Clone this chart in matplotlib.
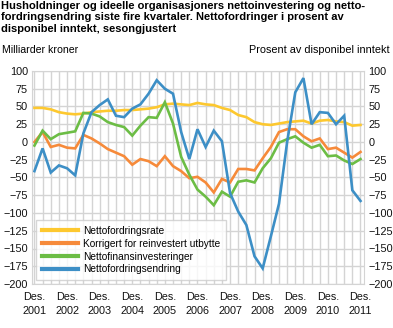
import matplotlib
matplotlib.use("Agg")
import matplotlib.pyplot as plt
import numpy as np

plt.rcParams["font.family"] = ["Liberation Sans", "DejaVu Sans"]

# kvartaler, des. 2001 - des. 2011
quarters = np.arange(41)
year_labels = ["Des.\n%d" % y for y in range(2001, 2012)]

nettofordringsrate = [48, 48, 46, 42, 40, 39, 40, 42, 43, 44, 44, 45, 45, 46, 47, 49,
                      53, 54, 53, 52, 55, 53, 52, 48, 45, 38, 35, 28, 25, 24, 26, 28,
                      29, 30, 26, 30, 31, 29, 28, 23, 24]
korrigert = [0, 14, -7, -4, -8, -9, 10, 5, -2, -10, -15, -20, -32, -24, -27, -34,
             -20, -34, -41, -51, -49, -57, -71, -52, -57, -38, -38, -40, -23, -7, 14, 18,
             18, 8, 1, 5, -10, -8, -15, -22, -14]
nettofinans = [-5, 16, 4, 11, 13, 15, 41, 40, 36, 28, 24, 21, 9, 23, 35, 34,
               56, 26, -21, -46, -67, -77, -89, -70, -77, -56, -54, -57, -37, -23, -1, 4,
               8, -1, -8, -4, -20, -19, -26, -31, -24]
nettofordringsendring = [-41, -9, -43, -33, -37, -47, 12, 42, 52, 60, 37, 35, 47, 53, 68, 87,
                         75, 68, 14, -24, 18, -7, 16, 1, -72, -98, -117, -161, -178, -133, -87, 0,
                         70, 90, 25, 42, 41, 25, 37, -68, -83]

series = [
    ("Nettofordringsrate", nettofordringsrate, "#fdc82f"),
    ("Korrigert for reinvestert utbytte", korrigert, "#f68a3a"),
    ("Nettofinansinvesteringer", nettofinans, "#6cbd45"),
    ("Nettofordringsendring", nettofordringsendring, "#3d8fc6"),
]

W, H = 393, 328
fig = plt.figure(figsize=(W / 100, H / 100), dpi=100)
ax = fig.add_axes([32 / W, 1 - 284 / H, 332 / W, 213 / H])

for name, vals, col in series:
    ax.plot(quarters, vals, color=col, lw=1.9, label=name, solid_joinstyle="miter")

ax.set_xlim(-0.3, 40.43)
ax.set_ylim(-200, 100)
ax.set_yticks(range(-200, 101, 25))
ax.set_xticks(quarters, minor=True)
ax.set_xticks(quarters[::4])
ax.set_xticklabels(year_labels)
ax.grid(True, which="both", color="#d4d4d4", lw=1)
ax.set_axisbelow(True)
ax.tick_params(which="both", length=0, labelsize=7.8, colors="#111111")
ax.tick_params(axis="x", pad=6)
ax.tick_params(axis="y", pad=3)
for s in ax.spines.values():
    s.set_color("#d4d4d4")

ax2 = ax.twinx()
ax2.set_ylim(-200, 100)
ax2.set_yticks(range(-200, 101, 25))
ax2.tick_params(length=0, labelsize=7.8, pad=3, colors="#111111")
for s in ax2.spines.values():
    s.set_visible(False)

for lab in ax.get_xticklabels():
    lab.set_linespacing(1.5)

leg = ax.legend(loc="lower left", bbox_to_anchor=(4 / 332, 4 / 213), fontsize=7.3,
                frameon=True, fancybox=False, borderpad=0.55, handlelength=3.6,
                handletextpad=0.5, labelspacing=0.28, borderaxespad=0)
leg.get_frame().set_edgecolor("#cccccc")
leg.get_frame().set_linewidth(1)
for h in leg.get_lines():
    h.set_linewidth(3)

fig.text(1 / W, 1 - 1 / H,
         "Husholdninger og ideelle organisasjoners nettoinvestering og netto-\n"
         "fordringsendring siste fire kvartaler. Nettofordringer i prosent av\n"
         "disponibel inntekt, sesongjustert",
         fontsize=8.0, fontweight="bold", va="top", ha="left", linespacing=1.18)
fig.text(2 / W, 1 - 45 / H, "Milliarder kroner", fontsize=7.6, va="top", ha="left")
fig.text(390 / W, 1 - 45 / H, "Prosent av disponibel inntekt", fontsize=7.8,
         va="top", ha="right")

fig.savefig("out.png", dpi=100)
